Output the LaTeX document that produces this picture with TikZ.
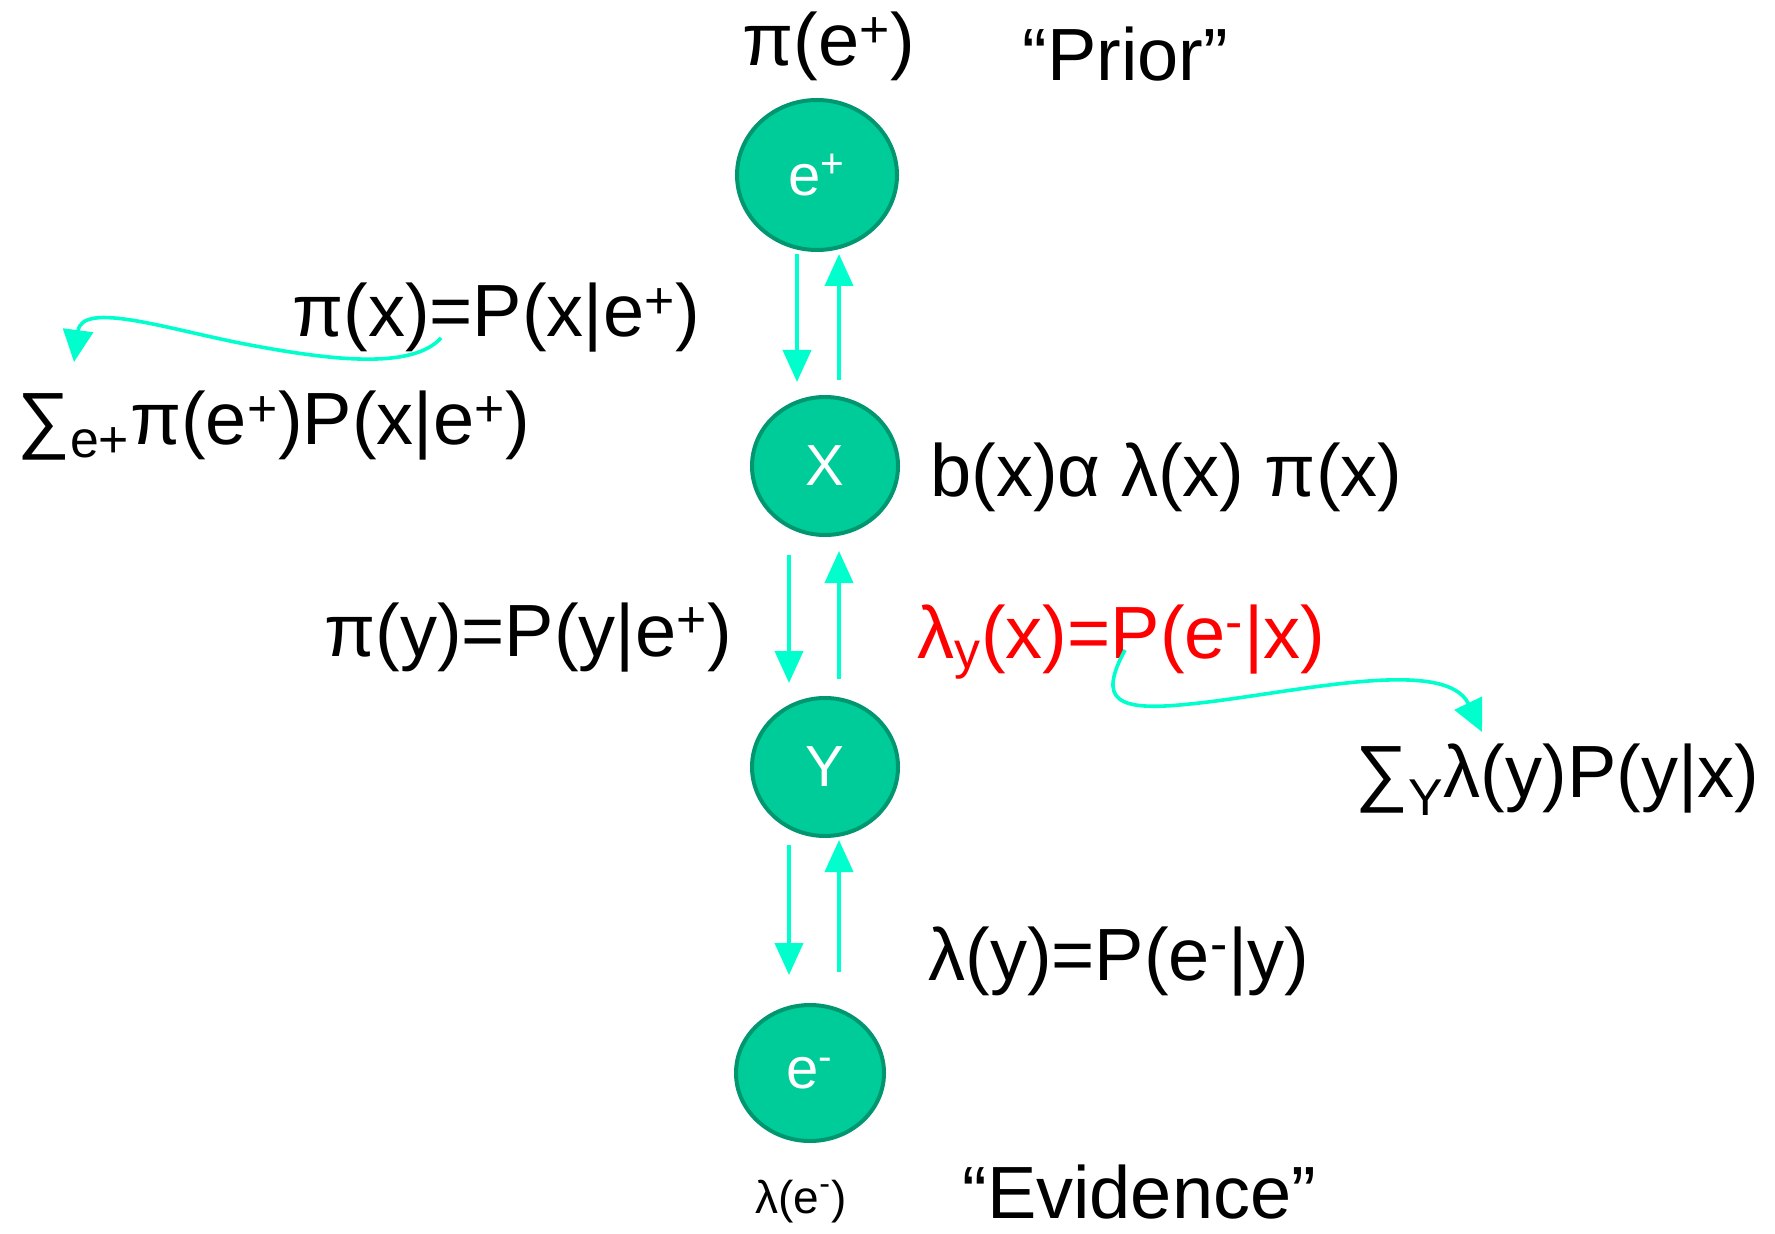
\documentclass[tikz,border=0pt]{standalone}
\usepackage{fontspec}
\setmainfont{Liberation Sans}
\usetikzlibrary{positioning,shapes.geometric,arrows.meta}
\definecolor{nodegreen}{HTML}{00CC99}
\definecolor{nodeedge}{HTML}{00966F}
\definecolor{flowcyan}{HTML}{00FFCC}

\begin{document}
\begin{tikzpicture}[
    x=0.5pt,y=-0.5pt,
    var/.style={ellipse,draw=nodeedge,fill=nodegreen,line width=2pt,text=white,
      font=\fontsize{29}{34}\selectfont,inner sep=0pt},
    lbl/.style={anchor=base west,inner sep=0pt,font=\fontsize{37}{44}\selectfont},
    flow/.style={-{Triangle[length=16pt,width=14pt]},line width=2pt,flowcyan},
    loopflow/.style={-{Triangle[length=16pt,width=15pt]},line width=1.8pt,flowcyan}
  ]
    \useasboundingbox (0,0) rectangle (1775,1234);
    % Chain of variables
    \node[var,minimum width=80pt,minimum height=75pt] (eplus) at (817,175) {e\textsuperscript{+}};
    \node[var,minimum width=73pt,minimum height=69pt] (x) at (825,466) {X};
    \node[var,minimum width=73pt,minimum height=69pt] (y) at (825,767) {Y};
    \node[var,minimum width=74pt,minimum height=68pt] (eminus) at (810,1073) {e\textsuperscript{-}};
    % Messages down (pi) and up (lambda)
    \foreach \a/\b/\sa/\sb/\ga/\gb in {
        eplus.south/x.north/-10pt/-14pt/1pt/6.5pt,
        x.north/eplus.south/7pt/11pt/7.5pt/1pt,
        x.south/y.north/-18pt/-18pt/9pt/6.5pt,
        y.north/x.south/7pt/7pt/8.5pt/7pt,
        y.south/eminus.north/-18pt/-10.5pt/3.5pt/14pt,
        eminus.north/y.south/14.5pt/7pt/15.5pt/1pt} {
      \draw[flow,shorten <=\ga,shorten >=\gb] ([xshift=\sa]\a) -- ([xshift=\sb]\b);
    }
    % Labels
    \node[lbl] (pie) at (742,66) {π(e\textsuperscript{+})};
    \node[lbl] (prior) at (1022,81) {“Prior”};
    \node[lbl] (pix) at (292,337) {π(x)=P(x|e\textsuperscript{+})};
    \node[lbl] (sumx) at (17,445) {∑\textsubscript{e+}π(e\textsuperscript{+})P(x|e\textsuperscript{+})};
    \node[lbl] (bel) at (930,497) {b(x)α λ(x) π(x)};
    \node[lbl] (piy) at (324,656) {π(y)=P(y|e\textsuperscript{+})};
    \node[lbl,text=red] (lamx) at (917,658) {λ\textsubscript{y}(x)=P(e\textsuperscript{-}|x)};
    \node[lbl] (sumy) at (1355,797) {∑\textsubscript{Y}λ(y)P(y|x)};
    \node[lbl] (lamy) at (928,980) {λ(y)=P(e\textsuperscript{-}|y)};
    \node[lbl,font=\fontsize{23}{27}\selectfont] (lame) at (755,1213) {λ(e\textsuperscript{-})};
    \node[lbl] (evid) at (962,1218) {“Evidence”};
    % Expansions
    \coordinate (pxfrom) at (441,338);
    \coordinate (sumxto) at (74,362);
    \draw[loopflow] (pxfrom) .. controls (412,370) and (330,360) .. (250,345)
      .. controls (170,330) and (82,300) .. (sumxto);
    \coordinate (lxfrom) at (1125,650);
    \coordinate (sumyto) at (1482,732);
    \draw[loopflow] (lxfrom) .. controls (1098,700) and (1115,712) .. (1190,704)
      .. controls (1290,694) and (1445,655) .. (sumyto);
\end{tikzpicture}
\end{document}
